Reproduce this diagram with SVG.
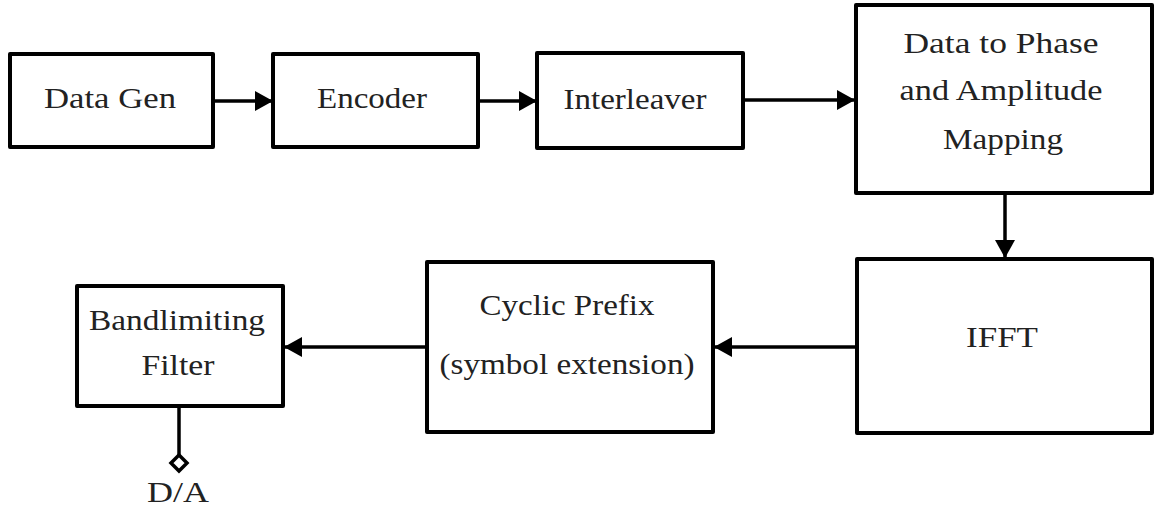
<svg xmlns="http://www.w3.org/2000/svg" width="1155" height="510" viewBox="0 0 1155 510">
  <style>
    .box { fill: #ffffff; stroke: #000000; stroke-width: 4; stroke-linejoin: round; }
    .lbl { font-family: "Liberation Serif", "Times New Roman", serif; font-size: 30px; fill: #222222; text-anchor: middle; }
    .wire { fill: none; stroke: #000000; stroke-width: 3.5; }
  </style>
  <defs>
    <marker id="arrow" markerUnits="userSpaceOnUse" markerWidth="18" markerHeight="20" refX="18" refY="10" orient="auto" overflow="visible">
      <path d="M0,0 L18,10 L0,20 Z" fill="#000000"/>
    </marker>
  </defs>
  <rect width="1155" height="510" fill="#ffffff"/>

  <!-- processing blocks -->
  <g id="data-gen">
    <rect class="box" x="10" y="54" width="203" height="93"/>
    <text class="lbl" x="110" y="108" textLength="132" lengthAdjust="spacingAndGlyphs">Data Gen</text>
  </g>
  <g id="encoder">
    <rect class="box" x="273" y="54" width="205" height="93"/>
    <text class="lbl" x="372" y="108" textLength="110" lengthAdjust="spacingAndGlyphs">Encoder</text>
  </g>
  <g id="interleaver">
    <rect class="box" x="537" y="53" width="206" height="95"/>
    <text class="lbl" x="635" y="109" textLength="143" lengthAdjust="spacingAndGlyphs">Interleaver</text>
  </g>
  <g id="mapping">
    <rect class="box" x="856" y="5" width="296" height="188"/>
    <text class="lbl" x="1001" y="53" textLength="195" lengthAdjust="spacingAndGlyphs">Data to Phase</text>
    <text class="lbl" x="1001" y="100" textLength="203" lengthAdjust="spacingAndGlyphs">and Amplitude</text>
    <text class="lbl" x="1003" y="149" textLength="120" lengthAdjust="spacingAndGlyphs">Mapping</text>
  </g>
  <g id="ifft">
    <rect class="box" x="857" y="259" width="295" height="174"/>
    <text class="lbl" x="1002" y="347" textLength="72" lengthAdjust="spacingAndGlyphs">IFFT</text>
  </g>
  <g id="cyclic-prefix">
    <rect class="box" x="427" y="262" width="286" height="170"/>
    <text class="lbl" x="567" y="315" textLength="175" lengthAdjust="spacingAndGlyphs">Cyclic Prefix</text>
    <text class="lbl" x="567" y="374" textLength="255" lengthAdjust="spacingAndGlyphs">(symbol extension)</text>
  </g>
  <g id="bandlimiting-filter">
    <rect class="box" x="77" y="286" width="206" height="120"/>
    <text class="lbl" x="177" y="330" textLength="176" lengthAdjust="spacingAndGlyphs">Bandlimiting</text>
    <text class="lbl" x="178" y="375" textLength="73" lengthAdjust="spacingAndGlyphs">Filter</text>
  </g>
  <g id="d-a">
    <path d="M179,455 L187,463 L179,471 L171,463 Z" fill="#ffffff" stroke="#000000" stroke-width="3.5" stroke-linejoin="miter"/>
    <text class="lbl" x="178" y="502" textLength="62" lengthAdjust="spacingAndGlyphs">D/A</text>
  </g>

  <!-- signal flow -->
  <g id="connectors">
    <line class="wire" x1="213" y1="101" x2="273" y2="101" marker-end="url(#arrow)"/>
    <line class="wire" x1="478" y1="101" x2="537" y2="101" marker-end="url(#arrow)"/>
    <line class="wire" x1="743" y1="100" x2="855" y2="100" marker-end="url(#arrow)"/>
    <line class="wire" x1="1005" y1="193" x2="1005" y2="258" marker-end="url(#arrow)"/>
    <line class="wire" x1="857" y1="347" x2="714" y2="347" marker-end="url(#arrow)"/>
    <line class="wire" x1="427" y1="347" x2="284" y2="347" marker-end="url(#arrow)"/>
    <line class="wire" x1="179" y1="406" x2="179" y2="455"/>
  </g>
</svg>
